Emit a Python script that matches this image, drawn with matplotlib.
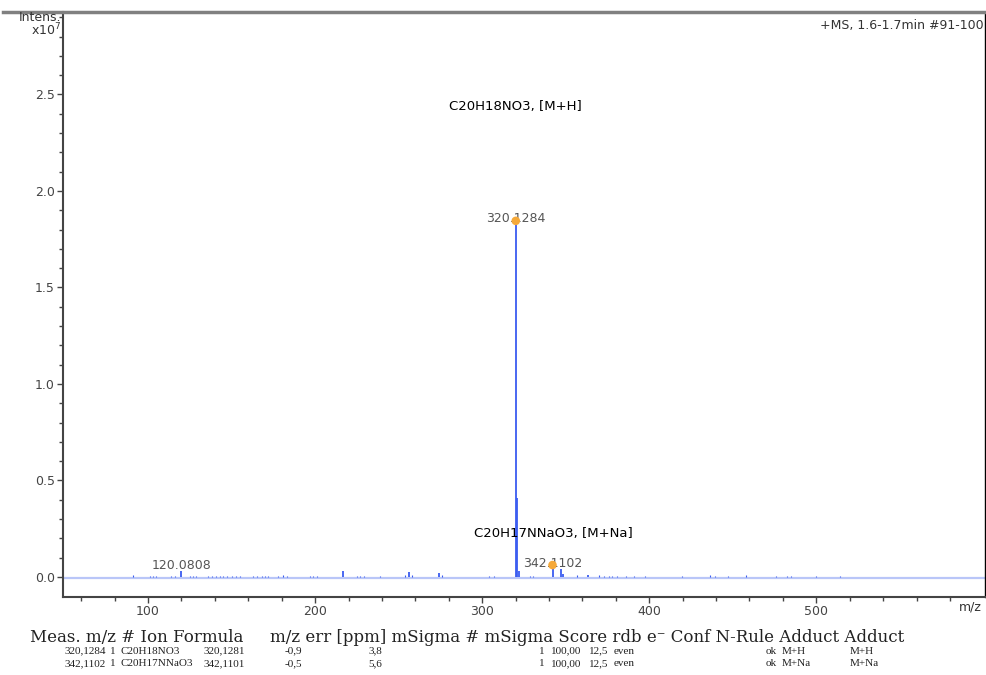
import numpy as np
import matplotlib
matplotlib.use("Agg")
import matplotlib.pyplot as plt
from matplotlib.lines import Line2D

# labelled peaks (m/z, intensity x1e7)
main_mz = [119.95, 216.8, 256.1, 274.3, 320.1284, 321.13, 322.13, 342.1102, 347.1, 348.5, 363.5]
main_int = [0.030, 0.030, 0.025, 0.020, 1.845, 0.410, 0.030, 0.062, 0.040, 0.015, 0.012]

# tiny noise peaks along the baseline
small_mz = [90.8, 101.0, 103.0, 105.0, 114.0, 116.0, 125.0, 127.0, 129.0, 136.0, 138.0,
            140.5, 143.0, 145.0, 147.5, 150.0, 152.5, 155.0, 163.0, 165.5, 168.0, 170.0,
            172.0, 178.0, 180.5, 183.0, 197.0, 199.0, 201.0, 225.0, 227.0, 229.0, 239.0,
            254.0, 258.0, 276.0, 304.0, 307.0, 328.7, 330.5, 357.0, 370.0, 373.0, 376.0,
            378.0, 381.0, 386.0, 391.0, 397.6, 419.8, 436.5, 439.5, 447.0, 458.0, 476.0,
            482.6, 485.0, 500.0, 514.0]
small_int = [0.008, 0.006, 0.007, 0.006, 0.006, 0.007, 0.006, 0.006, 0.006, 0.005, 0.006,
             0.006, 0.006, 0.005, 0.006, 0.006, 0.005, 0.006, 0.006, 0.006, 0.005, 0.006,
             0.006, 0.006, 0.008, 0.006, 0.006, 0.005, 0.006, 0.007, 0.006, 0.006, 0.006,
             0.012, 0.010, 0.008, 0.006, 0.006, 0.007, 0.006, 0.008, 0.008, 0.006, 0.007,
             0.006, 0.007, 0.006, 0.006, 0.007, 0.006, 0.008, 0.007, 0.006, 0.008, 0.006,
             0.006, 0.006, 0.006, 0.006]

marked_mz = [320.1284, 342.1102]
marked_int = [1.845, 0.062]
peak_labels = ["320.1284", "342.1102", "120.0808"]
peak_label_x = [320.1284, 342.1102, 119.8]
peak_label_y = [1.855, 0.072, 0.057]

formulas = ["C20H18NO3, [M+H]", "C20H17NNaO3, [M+Na]"]
formula_x = [320.1, 342.5]
formula_y = [2.435, 0.223]

# results table
header = ["Meas. m/z # Ion Formula",
          "m/z err [ppm] mSigma # mSigma Score rdb e\u207b Conf N-Rule Adduct Adduct"]
header_x = [30, 270]
row1 = ["320,1284", "1", "C20H18NO3", "320,1281", "-0,9", "3,8", "1", "100,00", "12,5", "even", "ok", "M+H", "M+H"]
row2 = ["342,1102", "1", "C20H17NNaO3", "342,1101", "-0,5", "5,6", "1", "100,00", "12,5", "even", "ok", "M+Na", "M+Na"]
row_x = [106, 116, 121, 245, 302, 382, 545, 551, 589, 614, 777, 782, 850]
row_ha = ["right", "right", "left", "right", "right", "right", "right", "left", "left", "left", "right", "left", "left"]

W, H = 987, 675
fig = plt.figure(figsize=(W / 100, H / 100), dpi=100)
ax = fig.add_axes([63 / W, 1 - 597 / H, (985 - 63) / W, (597 - 12) / H])

blue = "#3a5cf0"
ax.axhline(-0.004, color="#b9c6f8", lw=1.6, zorder=1)
ax.vlines(small_mz, 0, small_int, color=blue, lw=0.8, zorder=2)
ax.vlines(main_mz, 0, main_int, color=blue, lw=1.3, zorder=3)
ax.scatter(marked_mz, marked_int, s=38, color="#f5a93a", zorder=4, edgecolors="none")

for t, x, y in zip(peak_labels, peak_label_x, peak_label_y):
    ax.text(x, y, t, ha="center", va="center", fontsize=9, color="#555555",
            family="DejaVu Sans")
for t, x, y in zip(formulas, formula_x, formula_y):
    ax.text(x, y, t, ha="center", va="center", fontsize=9.5, color="black",
            family="DejaVu Sans")

ax.set_xlim(49.1, 601)
ax.set_ylim(-0.1036, 2.927)
ax.set_xticks([100, 200, 300, 400, 500])
ax.set_xticks(np.arange(60, 600, 20), minor=True)
ax.set_yticks([0.0, 0.5, 1.0, 1.5, 2.0, 2.5])
ax.set_yticks(np.arange(0, 2.95, 0.1), minor=True)
ax.set_yticklabels(["0.0", "0.5", "1.0", "1.5", "2.0", "2.5"])
ax.tick_params(which="both", direction="out", colors="#444444", labelsize=9, width=1)
ax.tick_params(which="major", length=4, pad=2)
ax.tick_params(which="minor", length=3)
for lab in ax.get_xticklabels() + ax.get_yticklabels():
    lab.set_family("DejaVu Sans")

ax.spines["top"].set_visible(False)
ax.spines["left"].set_color("#444444")
ax.spines["left"].set_linewidth(1.5)
ax.spines["bottom"].set_color("#444444")
ax.spines["bottom"].set_linewidth(1.5)
ax.spines["right"].set_color("black")
ax.spines["right"].set_linewidth(1.0)

ax.text(0.984, -0.017, "m/z", transform=ax.transAxes, ha="center", va="center",
        fontsize=9, color="#333333", family="DejaVu Sans")
ax.text(0.998, 0.988, "+MS, 1.6-1.7min #91-100", transform=ax.transAxes, ha="right",
        va="top", fontsize=9, color="#333333", family="DejaVu Sans")

fig.text(61 / W, 1 - 11 / H, "Intens.\nx10$^7$", ha="right", va="top", fontsize=9,
         color="#333333", family="DejaVu Sans", linespacing=0.85)
fig.add_artist(Line2D([3 / W, 1], [1 - 12 / H, 1 - 12 / H], color="#808080", lw=2.5,
                      transform=fig.transFigure))

for t, x in zip(header, header_x):
    fig.text(x / W, 1 - 637 / H, t, ha="left", va="center", fontsize=12,
             family="DejaVu Serif", color="#222222")
for row, yy in [(row1, 651), (row2, 664)]:
    for t, x, ha in zip(row, row_x, row_ha):
        fig.text(x / W, 1 - yy / H, t, ha=ha, va="center", fontsize=8,
                 family="Liberation Serif", color="#222222")

fig.savefig("out.png", dpi=100)
